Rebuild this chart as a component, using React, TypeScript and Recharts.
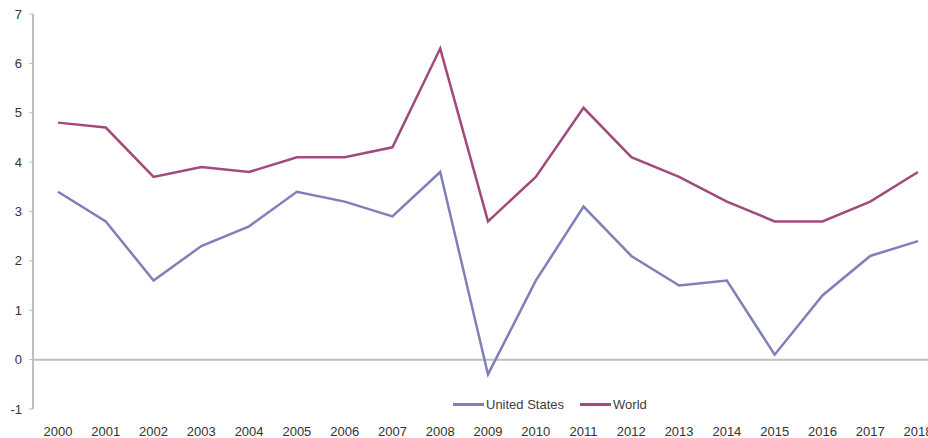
import { LineChart, Line, XAxis, YAxis, ReferenceLine } from "recharts";

const years = ["2000", "2001", "2002", "2003", "2004", "2005", "2006", "2007", "2008", "2009", "2010", "2011", "2012", "2013", "2014", "2015", "2016", "2017", "2018"];
const unitedStates = [3.4, 2.8, 1.6, 2.3, 2.7, 3.4, 3.2, 2.9, 3.8, -0.3, 1.6, 3.1, 2.1, 1.5, 1.6, 0.1, 1.3, 2.1, 2.4];
const world = [4.8, 4.7, 3.7, 3.9, 3.8, 4.1, 4.1, 4.3, 6.3, 2.8, 3.7, 5.1, 4.1, 3.7, 3.2, 2.8, 2.8, 3.2, 3.8];
const yTicks = [-1, 0, 1, 2, 3, 4, 5, 6, 7];

const US_COLOR = "#7f80ba";
const WORLD_COLOR = "#a24a7c";
const AXIS_COLOR = "#bfbfbf";
const FONT = "'Liberation Sans', Arial, sans-serif";

const data = years.map((year, i) => ({ year, us: unitedStates[i], world: world[i] }));

// legend drawn as an overlay so it doesn't eat plot height
function LegendBox() {
  const item = (color: string, label: string) => (
    <div style={{ display: "flex", alignItems: "center", marginRight: 16 }}>
      <div style={{ width: 31, height: 3, background: color, marginRight: 2 }} />
      <span>{label}</span>
    </div>
  );
  return (
    <div style={{ position: "absolute", left: 453, top: 397, display: "flex", fontFamily: FONT, fontSize: 13, color: "#404040" }}>
      {item(US_COLOR, "United States")}
      {item(WORLD_COLOR, "World")}
    </div>
  );
}

export default function App() {
  return (
    <div style={{ position: "fixed", left: 0, top: 0, width: 928, height: 438, overflow: "hidden", background: "#fff" }}>
      <LineChart width={928} height={438} data={data} margin={{ top: 14, right: 0, bottom: 0, left: 0 }}>
        <XAxis
          dataKey="year"
          padding={{ left: 25, right: 10 }}
          axisLine={false}
          tickLine={false}
          tickSize={10}
          tickMargin={8}
          interval={0}
          height={29}
          tick={{ fill: "#333", fontSize: 13, fontFamily: FONT }}
        />
        <YAxis
          domain={[-1, 7]}
          ticks={yTicks}
          width={33}
          axisLine={{ stroke: AXIS_COLOR, strokeWidth: 2 }}
          tickLine={{ stroke: AXIS_COLOR }}
          tickSize={4}
          tickMargin={7}
          tick={{ fill: "#333", fontSize: 13, fontFamily: FONT }}
        />
        <ReferenceLine y={0} stroke={AXIS_COLOR} strokeWidth={2} />
        <Line type="linear" dataKey="us" name="United States" stroke={US_COLOR} strokeWidth={2.5} dot={false} isAnimationActive={false} />
        <Line type="linear" dataKey="world" name="World" stroke={WORLD_COLOR} strokeWidth={2.5} dot={false} isAnimationActive={false} />
      </LineChart>
      <LegendBox />
    </div>
  );
}
